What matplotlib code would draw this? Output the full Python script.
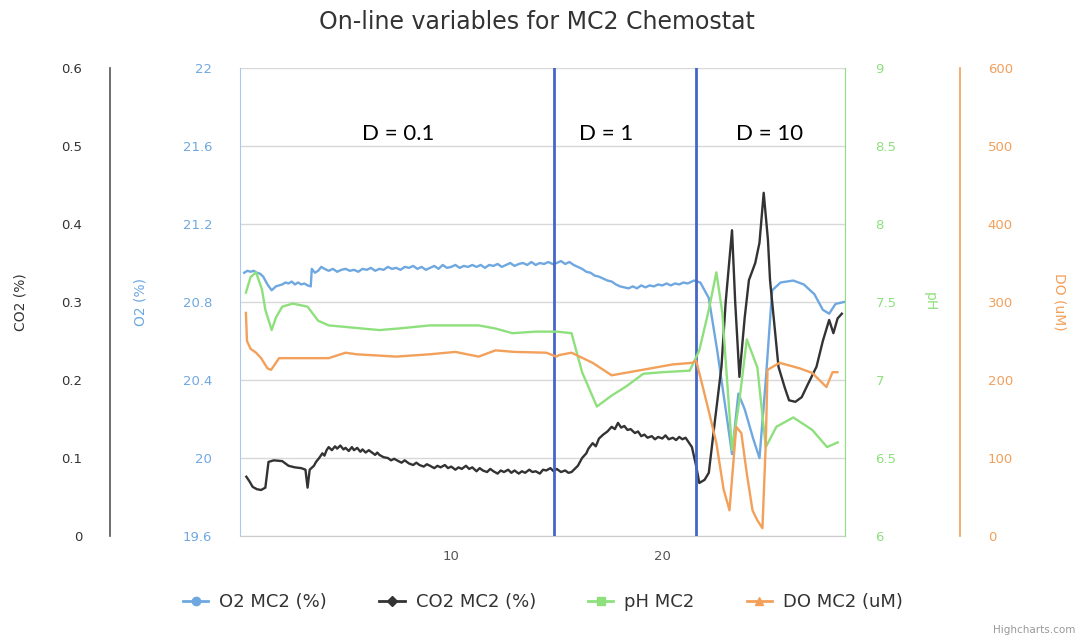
import matplotlib
matplotlib.use("Agg")
import matplotlib.pyplot as plt
from matplotlib.lines import Line2D

outputFigure = "out.png"

# data (time, value)
o2Time = [0.2, 0.35, 0.5, 0.65, 0.8, 0.95, 1.1, 1.2, 1.3, 1.4, 1.5, 1.6, 1.7, 1.85, 2.0, 2.15,
          2.3, 2.45, 2.6, 2.75, 2.9, 3.05, 3.2, 3.35,
          3.4, 3.55, 3.7, 3.85, 4.0, 4.2, 4.4, 4.6, 4.8, 5.0, 5.2, 5.4, 5.6, 5.8, 6.0, 6.2, 6.4,
          6.6, 6.8, 7.0, 7.2, 7.4, 7.6, 7.8, 8.0, 8.2, 8.4, 8.6, 8.8, 9.0, 9.2, 9.4, 9.6, 9.8,
          10.0, 10.2, 10.4, 10.6, 10.8, 11.0, 11.2, 11.4, 11.6, 11.8, 12.0, 12.2, 12.4, 12.6,
          12.8, 13.0, 13.2, 13.4, 13.6, 13.8, 14.0, 14.2, 14.4, 14.6, 14.8, 15.0, 15.2, 15.4,
          15.6, 15.8, 16.0, 16.2, 16.4, 16.6, 16.8, 17.0, 17.2, 17.4, 17.6, 17.8, 18.0, 18.2,
          18.4, 18.6, 18.8, 19.0, 19.2, 19.4, 19.6, 19.8, 20.0, 20.2, 20.4, 20.6, 20.8, 21.0,
          21.2, 21.4, 21.5, 21.8,
          22.2, 22.6, 23.0, 23.3, 23.6, 23.9, 24.3, 24.6, 24.9, 25.2, 25.6, 26.2, 26.7, 27.2,
          27.6, 27.9, 28.2, 28.6]
o2Value = [20.95, 20.96, 20.955, 20.96, 20.95, 20.945, 20.93, 20.91, 20.89, 20.875, 20.86, 20.87,
           20.88, 20.885, 20.89, 20.9, 20.895, 20.905, 20.89, 20.9, 20.89, 20.895, 20.885, 20.88,
           20.97, 20.95, 20.96, 20.98, 20.97, 20.96, 20.97, 20.955, 20.965, 20.97, 20.96, 20.965,
           20.955, 20.97, 20.965, 20.975, 20.96, 20.97, 20.965, 20.98, 20.97, 20.975, 20.965,
           20.98, 20.975, 20.985, 20.97, 20.98, 20.965, 20.975, 20.985, 20.97, 20.99, 20.975,
           20.98, 20.99, 20.975, 20.985, 20.98, 20.99, 20.98, 20.99, 20.975, 20.99, 20.985,
           20.995, 20.98, 20.99, 21.0, 20.985, 20.995, 21.0, 20.99, 21.005, 20.99, 21.0, 20.995,
           21.005, 20.995, 21.0, 21.01, 20.995, 21.005, 20.99, 20.98, 20.97, 20.955, 20.95,
           20.935, 20.93, 20.92, 20.91, 20.905, 20.89, 20.88, 20.875, 20.87, 20.88, 20.87,
           20.885, 20.875, 20.885, 20.88, 20.89, 20.885, 20.895, 20.885, 20.895, 20.89, 20.90,
           20.895, 20.905, 20.91, 20.90,
           20.82, 20.55, 20.25, 20.02, 20.33, 20.25, 20.10, 20.0, 20.4, 20.86, 20.9, 20.91,
           20.89, 20.84, 20.76, 20.74, 20.79, 20.80]

co2Time = [0.3, 0.45, 0.6, 0.8, 1.0, 1.2, 1.35, 1.6, 2.0, 2.3, 2.6, 2.9, 3.1, 3.2,
           3.3, 3.5, 3.6, 3.75, 3.9, 4.0, 4.1, 4.2, 4.35, 4.5, 4.6, 4.75, 4.9, 5.0, 5.15, 5.3,
           5.4, 5.55, 5.7, 5.8, 5.95, 6.1, 6.2, 6.4, 6.5, 6.6, 6.8, 7.0, 7.15, 7.3, 7.5, 7.65,
           7.8, 8.0, 8.2, 8.35, 8.5, 8.7, 8.85, 9.0, 9.2, 9.35, 9.5, 9.7, 9.85, 10.0, 10.2,
           10.35, 10.5, 10.7, 10.85, 11.0, 11.2, 11.35, 11.5, 11.7, 11.85, 12.0, 12.2, 12.35,
           12.5, 12.7, 12.85, 13.0, 13.2, 13.35, 13.5, 13.7, 13.85, 14.0, 14.2, 14.35, 14.5,
           14.7, 14.85, 15.0, 15.2, 15.4, 15.55, 15.7,
           16.0, 16.2, 16.4, 16.5, 16.7, 16.85, 17.0, 17.2, 17.4, 17.6, 17.75, 17.9, 18.05, 18.2,
           18.35, 18.5, 18.7, 18.85, 19.0, 19.15, 19.3, 19.5, 19.65, 19.8, 20.0, 20.15, 20.3,
           20.5, 20.65, 20.8, 20.95, 21.1, 21.25, 21.4,
           21.6, 21.75, 22.0, 22.2, 22.5, 22.8, 23.0, 23.3, 23.45, 23.65, 23.9, 24.1, 24.4, 24.6,
           24.8, 25.0, 25.1, 25.5, 25.8, 26.0, 26.3, 26.6, 26.9, 27.3, 27.6, 27.9, 28.1, 28.3,
           28.5]
co2Value = [0.076, 0.07, 0.063, 0.060, 0.059, 0.062, 0.095, 0.097, 0.096, 0.090, 0.088, 0.087,
            0.085, 0.062,
            0.085, 0.090, 0.095, 0.100, 0.106, 0.103, 0.110, 0.114, 0.110, 0.115, 0.112, 0.116,
            0.111, 0.113, 0.109, 0.114, 0.110, 0.113, 0.108, 0.111, 0.107, 0.110, 0.108, 0.104,
            0.107, 0.104, 0.101, 0.100, 0.097, 0.099, 0.096, 0.094, 0.097, 0.093, 0.091, 0.094,
            0.091, 0.089, 0.092, 0.090, 0.087, 0.090, 0.088, 0.091, 0.087, 0.089, 0.085, 0.088,
            0.086, 0.090, 0.086, 0.088, 0.083, 0.087, 0.084, 0.082, 0.086, 0.083, 0.080, 0.084,
            0.082, 0.085, 0.081, 0.084, 0.080, 0.083, 0.081, 0.085, 0.082, 0.083, 0.080, 0.085,
            0.084, 0.087, 0.083, 0.086, 0.082, 0.084, 0.081, 0.082,
            0.090, 0.100, 0.106, 0.112, 0.119, 0.115, 0.125, 0.130, 0.134, 0.140, 0.137, 0.145,
            0.139, 0.141, 0.136, 0.137, 0.132, 0.134, 0.128, 0.130, 0.126, 0.128, 0.124, 0.127,
            0.125, 0.129, 0.124, 0.126, 0.123, 0.127, 0.124, 0.126, 0.120, 0.114,
            0.090, 0.068, 0.072, 0.081, 0.150, 0.217, 0.300, 0.392, 0.300, 0.204, 0.280, 0.328,
            0.350, 0.376, 0.440, 0.380, 0.328, 0.217, 0.190, 0.174, 0.172, 0.178, 0.195, 0.217,
            0.250, 0.277, 0.260, 0.279, 0.285]

phTime = [0.28, 0.5, 0.76, 1.04, 1.2, 1.5, 1.7, 2.0, 2.5, 3.2, 3.7, 4.2, 5.0, 6.6, 7.5, 9.0,
          11.3, 12.1, 12.9, 14.0, 15.0, 15.7, 16.2, 16.9, 17.6, 18.3, 19.1, 20.0, 21.3, 21.75,
          22.2, 22.56, 22.84, 23.3, 23.65, 24.0, 24.5, 24.9, 25.4, 26.2, 27.1, 27.8, 28.3]
phValue = [7.56, 7.66, 7.69, 7.58, 7.45, 7.32, 7.40, 7.47, 7.49, 7.47, 7.38, 7.35, 7.34, 7.32,
           7.33, 7.35, 7.35, 7.33, 7.30, 7.31, 7.31, 7.30, 7.05, 6.83, 6.90, 6.96, 7.04, 7.05,
           7.06, 7.19, 7.45, 7.69, 7.43, 6.55, 6.87, 7.26, 7.08, 6.57, 6.70, 6.76, 6.68, 6.57,
           6.60]

doTime = [0.28, 0.33, 0.5, 0.76, 1.0, 1.3, 1.47, 1.7, 1.85, 3.0, 4.2, 5.0, 5.5, 7.4, 9.0, 10.2,
          11.3, 12.1, 13.0, 14.5, 14.98, 15.12, 15.7, 16.7, 17.6, 19.05, 20.5, 21.42, 21.6, 21.75,
          22.2, 22.56, 22.9, 23.18, 23.5, 23.74, 24.0, 24.27, 24.5, 24.74, 24.9, 24.98, 25.55,
          26.5, 27.1, 27.77, 28.06, 28.29]
doValue = [286, 250, 240, 235, 228, 215, 213, 222, 228, 228, 228, 235, 233, 230, 233, 236, 230,
           238, 236, 235, 230, 232, 235, 222, 206, 213, 220, 222, 225, 209, 160, 119, 60, 33, 140,
           132, 80, 33, 20, 10, 120, 213, 222, 215, 209, 191, 210, 210]

phaseLines = [14.88, 21.6]
phaseLabels = ["D = 0.1", "D = 1", "D = 10"]
phaseLabelTime = [7.5, 17.35, 25.1]

o2Color = "#6fa8e0"
co2Color = "#333333"
phColor = "#8ee07d"
doColor = "#f2a05a"

fig = plt.figure(figsize=(10.81, 6.40), dpi=100)
ax = fig.add_axes([240 / 1081, 1 - 536 / 640, 605 / 1081, 468 / 640])
axCo2 = ax.twinx()
axPh = ax.twinx()
axDo = ax.twinx()

# O2 main axis (left at plot edge)
ax.set_xlim(0, 28.65)
ax.set_ylim(19.6, 22)
ax.set_yticks([19.6, 20, 20.4, 20.8, 21.2, 21.6, 22])
ax.set_yticklabels(["19.6", "20", "20.4", "20.8", "21.2", "21.6", "22"])
ax.set_xticks([10, 20])
ax.grid(axis="y", color="#d8d8d8", linewidth=1)
ax.set_axisbelow(True)
for s in ["top", "right"]:
    ax.spines[s].set_visible(False)
ax.spines["left"].set_color("#a8c8ee")
ax.spines["bottom"].set_color("#cccccc")
ax.tick_params(axis="y", length=0, pad=20, labelsize=9.5, labelcolor=o2Color)
ax.tick_params(axis="x", length=0, pad=10, labelsize=9.5, labelcolor="#555555")

# CO2 axis, further left
axCo2.yaxis.set_ticks_position("left")
axCo2.spines["left"].set_position(("axes", -130 / 605))
axCo2.spines["left"].set_color("#555555")
axCo2.spines["left"].set_linewidth(1.2)
for s in ["top", "right", "bottom"]:
    axCo2.spines[s].set_visible(False)
axCo2.set_ylim(0, 0.6)
axCo2.set_yticks([0, 0.1, 0.2, 0.3, 0.4, 0.5, 0.6])
axCo2.set_yticklabels(["0", "0.1", "0.2", "0.3", "0.4", "0.5", "0.6"])
axCo2.tick_params(axis="y", length=0, pad=20, labelsize=9.5, labelcolor="#333333")

# pH axis (right at plot edge)
for s in ["top", "left", "bottom"]:
    axPh.spines[s].set_visible(False)
axPh.spines["right"].set_color(phColor)
axPh.set_ylim(6, 9)
axPh.set_yticks([6, 6.5, 7, 7.5, 8, 8.5, 9])
axPh.set_yticklabels(["6", "6.5", "7", "7.5", "8", "8.5", "9"])
axPh.tick_params(axis="y", length=0, pad=22, labelsize=9.5, labelcolor=phColor)

# DO axis, further right
for s in ["top", "left", "bottom"]:
    axDo.spines[s].set_visible(False)
axDo.spines["right"].set_position(("axes", 720 / 605))
axDo.spines["right"].set_color(doColor)
axDo.spines["right"].set_linewidth(1.2)
axDo.set_ylim(0, 600)
axDo.set_yticks([0, 100, 200, 300, 400, 500, 600])
axDo.tick_params(axis="y", length=0, pad=20, labelsize=9.5, labelcolor=doColor)

axDo.plot(doTime, doValue, color=doColor, linewidth=1.7)
axPh.plot(phTime, phValue, color=phColor, linewidth=1.7)
ax.plot(o2Time, o2Value, color=o2Color, linewidth=1.7)
axCo2.plot(co2Time, co2Value, color=co2Color, linewidth=1.7)

for t in phaseLines:
    axCo2.axvline(t, color="#4466c8", linewidth=2)
for label, t in zip(phaseLabels, phaseLabelTime):
    ax.text(t, 21.66, label, ha="center", va="center", fontsize=16, family="Lato", color="black")

fig.text(20 / 1081, 1 - 302 / 640, "CO2 (%)", rotation=90, ha="center", va="center",
         fontsize=10, color="#333333")
fig.text(140 / 1081, 1 - 302 / 640, "O2 (%)", rotation=90, ha="center", va="center",
         fontsize=10, color=o2Color)
fig.text(930 / 1081, 1 - 302 / 640, "pH", rotation=270, ha="center", va="center",
         fontsize=10, color=phColor)
fig.text(1060 / 1081, 1 - 302 / 640, "DO (uM)", rotation=270, ha="center", va="center",
         fontsize=10, color=doColor)

fig.text(537 / 1081, 1 - 22 / 640, "On-line variables for MC2 Chemostat", ha="center",
         va="center", fontsize=17, color="#333333")

handles = [
    Line2D([], [], color=o2Color, marker="o", markersize=6, linewidth=2),
    Line2D([], [], color=co2Color, marker="D", markersize=5, linewidth=2),
    Line2D([], [], color=phColor, marker="s", markersize=6, linewidth=2),
    Line2D([], [], color=doColor, marker="^", markersize=6, linewidth=2),
]
labels = ["O2 MC2 (%)", "CO2 MC2 (%)", "pH MC2", "DO MC2 (uM)"]
fig.legend(handles, labels, loc="center", bbox_to_anchor=(543 / 1081, 1 - 602 / 640),
           ncol=4, frameon=False, fontsize=13, handlelength=1.4, handletextpad=0.6,
           columnspacing=2.9, labelcolor="#333333")
fig.text(1075 / 1081, 1 - 630 / 640, "Highcharts.com", ha="right", va="center",
         fontsize=7.5, color="#999999")

plt.savefig(outputFigure, dpi=100)
